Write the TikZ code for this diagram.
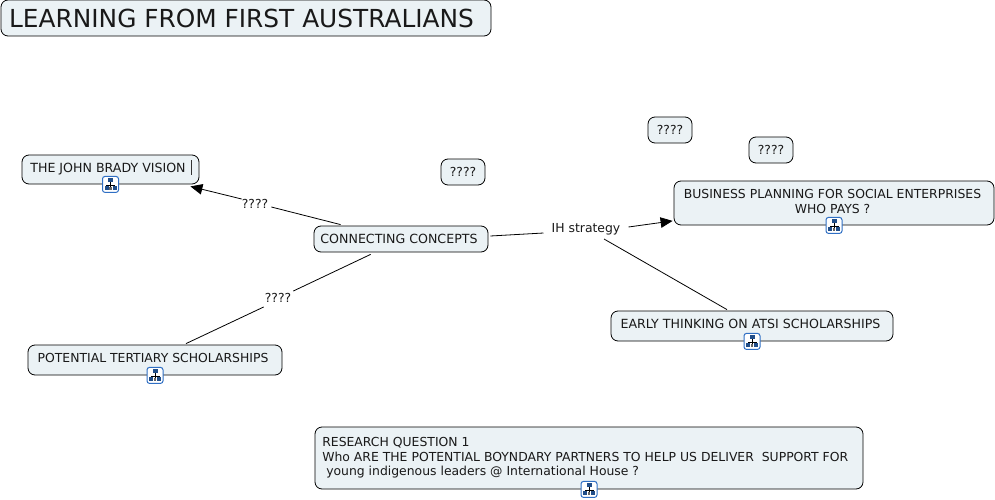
\documentclass[tikz,border=0pt]{standalone}
\usepackage{fontspec}
\setmainfont{DejaVu Sans}
\usetikzlibrary{arrows.meta,positioning}
\definecolor{boxfill}{HTML}{EBF2F5}
\definecolor{iconblue}{HTML}{2F6FC4}
\tikzset{
  x=1pt,y=-1pt,
  concept/.style={draw=black,line width=0.8pt,fill=boxfill,rounded corners=7pt,inner sep=0pt,
    font=\fontsize{12.4}{15}\selectfont,text=black!90},
  capsconcept/.style={concept,font=\fontsize{12.6}{15}\selectfont},
  label/.style={inner sep=0pt,font=\fontsize{12.4}{14}\selectfont,text=black!90},
  link/.style={draw=black,line width=0.8pt},
  linkarrow/.style={link,-{Triangle[length=12pt,width=10.5pt]}},
  mapicon/.pic={
    \draw[iconblue,line width=1pt,fill=white,rounded corners=2.5pt] (-8,-8) rectangle (8,8);
    \draw[black,line width=0.7pt] (0,-2) -- (0,0.5) (-4,2) -- (-4,0.5) -- (4,0.5) -- (4,2) (0,0.5) -- (0,3);
    \fill[iconblue!70!black] (-2.5,-6) rectangle (2.5,-2);
    \fill[iconblue!70!black] (-6,2) rectangle (-2,6);
    \fill[iconblue!70!black] (2,2) rectangle (6,6);
    \fill[black!60] (-1.2,3) rectangle (1.2,6);
  }
}
\begin{document}
\begin{tikzpicture}
\useasboundingbox (0,0) rectangle (995,500);
\node[concept,minimum width=490pt,minimum height=36pt,font=\fontsize{24.8}{28}\selectfont] (title) at (246,18) {\hspace*{-9pt}LEARNING FROM FIRST AUSTRALIANS};
\node[capsconcept,minimum width=177pt,minimum height=29pt] (jb) at (110.5,169.5) {\raisebox{1pt}{\hspace*{-5pt}THE JOHN BRADY VISION}};
\node[concept,minimum width=44pt,minimum height=26pt] (q1) at (463,172) {????};
\node[concept,minimum width=44pt,minimum height=26pt] (q2) at (670,130) {????};
\node[concept,minimum width=44pt,minimum height=26pt] (q3) at (771,150) {????};
\node[concept,minimum width=320pt,minimum height=44pt,align=center] (bp) at (834,203) {\raisebox{7.5pt}{\hspace*{-3pt}\begin{tabular}{@{}c@{}}BUSINESS PLANNING FOR SOCIAL ENTERPRISES\\[-0.5pt]WHO PAYS ?\end{tabular}}};
\node[capsconcept,minimum width=174pt,minimum height=26pt] (cc) at (401,239) {\hspace*{-4pt}CONNECTING CONCEPTS};
\node[capsconcept,minimum width=282pt,minimum height=30pt] (early) at (752,326) {\raisebox{4pt}{\hspace*{-3pt}EARLY THINKING ON ATSI SCHOLARSHIPS}};
\node[concept,minimum width=254pt,minimum height=30pt] (pts) at (155,360) {\raisebox{3.5pt}{\hspace*{-4pt}POTENTIAL TERTIARY SCHOLARSHIPS}};
\node[concept,minimum width=548pt,minimum height=62pt,align=left] (rq) at (589,458) {\raisebox{4.5pt}{\hspace*{-7.5pt}\begin{tabular}{@{}l@{}}RESEARCH QUESTION 1\\[-0.5pt]Who ARE THE POTENTIAL BOYNDARY PARTNERS TO HELP US DELIVER\ \ SUPPORT FOR\\[-0.5pt]\ young indigenous leaders @ International House ?\end{tabular}}};
\node[label] (l1) at (255,203.5) {????};
\node[label] (l2) at (278,298) {????};
\node[label] (l3) at (586,229.5) {IH strategy};
\draw[black!80,line width=0.7pt] ([shift={(-8.5,-9.5)}]jb.south east) -- ([shift={(-8.5,-24)}]jb.south east);
\draw[link] ([shift={(27,-1)}]cc.north west) -- ([shift={(3,3.5)}]l1.east);
\draw[linkarrow] ([shift={(0,-4.5)}]l1.west) -- ([shift={(-9,2)}]jb.south east);
\draw[link] ([shift={(57,2)}]cc.south west) -- ([shift={(2,-7)}]l2.east);
\draw[link] ([shift={(-1,9)}]l2.west) -- ([shift={(31,-1)}]pts.north);
\draw[link] ([shift={(2,-3)}]cc.east) -- ([shift={(-8,3.5)}]l3.west);
\draw[linkarrow] ([shift={(8,-2.5)}]l3.east) -- ([shift={(-1,-4.5)}]bp.south west);
\draw[link] ([shift={(18,9.5)}]l3.center) -- ([shift={(-25,-1)}]early.north);
\pic at (jb.south) {mapicon};
\pic at (bp.south) {mapicon};
\pic at (early.south) {mapicon};
\pic at (pts.south) {mapicon};
\pic at (rq.south) {mapicon};
\end{tikzpicture}
\end{document}
